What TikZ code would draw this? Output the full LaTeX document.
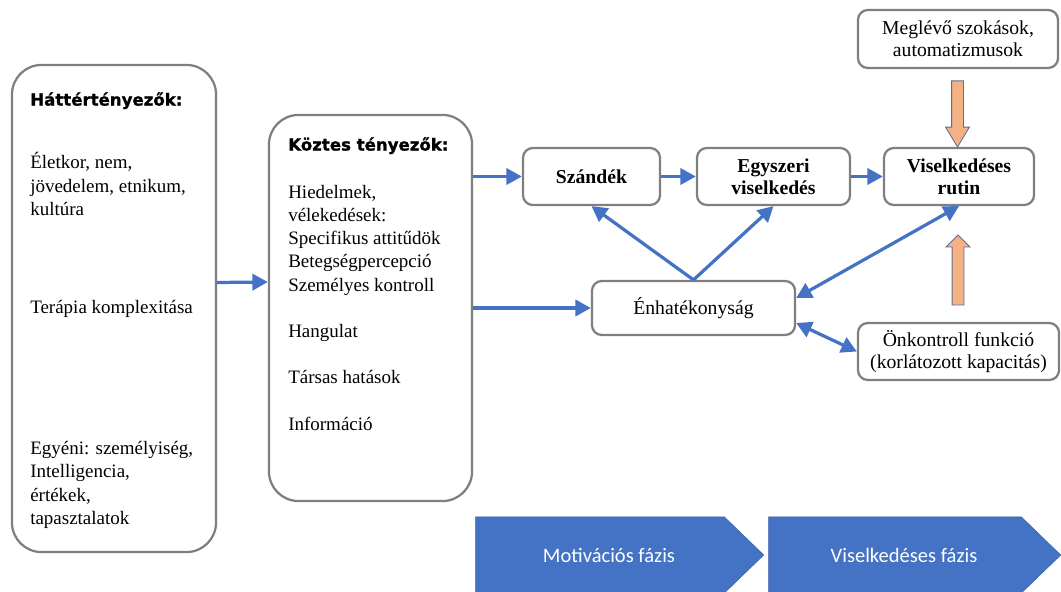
\documentclass[tikz,border=0pt]{standalone}
\usepackage{fontspec}
\setmainfont{Liberation Serif}
\newfontfamily\hdrfont{DejaVu Sans}[BoldFeatures={FakeBold=1.2}]
\newfontfamily\phasefont{Carlito}
\usetikzlibrary{arrows.meta,shapes.arrows,shapes.symbols}

\definecolor{arrowblue}{HTML}{4472C4}
\definecolor{boxgray}{HTML}{7F7F7F}
\definecolor{habitfill}{HTML}{F4B183}
\definecolor{habitedge}{HTML}{5A6E9A}

\newcommand{\hdr}[1]{{\hdrfont\bfseries\fontsize{11.8}{16.5}\selectfont #1}}

\tikzset{
  bigbox/.style={draw=boxgray, line width=1.6pt, rounded corners=21pt},
  listtext/.style={anchor=north west, inner sep=0pt, align=left,
    font=\fontsize{13.5}{16.5}\selectfont},
  smallbox/.style={draw=boxgray, line width=1.6pt, rounded corners=7pt,
    align=center, inner sep=0pt, font=\fontsize{14}{15.6}\selectfont},
  conn/.style={draw=arrowblue, line width=2.3pt,
    -{Triangle[length=11pt,width=11.5pt]}},
  biconn/.style={conn, {Triangle[length=11pt,width=11.5pt]}-{Triangle[length=11pt,width=11.5pt]}},
  habitarrow/.style={single arrow, draw=habitedge, fill=habitfill, line width=0.6pt,
    minimum width=0.575cm, inner sep=0.1375cm, single arrow head extend=0.15cm},
  phase/.style={signal, signal to=east, signal from=nowhere, signal pointer angle=88,
    fill=arrowblue, draw=arrowblue!85!black, line width=0.4pt, text=white,
    font=\phasefont\fontsize{14.6}{16}\selectfont,
    minimum height=1.9cm, inner sep=0pt}
}

\begin{document}
\begin{tikzpicture}[x=0.025cm, y=-0.025cm]
  \useasboundingbox (0,0) rectangle (1061,592);

  \node[bigbox, minimum width=5.1cm, minimum height=12.175cm] (hatter) at (114,308.5) {};
  \node[listtext] (hattertxt) at (30,92) {\hdr{Háttértényezők:}\\[28.6pt]
    Életkor, nem,\\ jövedelem, etnikum,\\ kultúra\\[53pt]
    Terápia komplexitása\\[84.2pt]
    Egyéni: személyiség,\\ Intelligencia,\\ értékek,\\ tapasztalatok};

  \node[bigbox, minimum width=5.075cm, minimum height=9.65cm] (koztes) at (370.5,308) {};
  \node[listtext] (koztestxt) at (288,137) {\hdr{Köztes tényezők:}\\[17.5pt]
    Hiedelmek,\\ vélekedések:\\ Specifikus attitűdök\\ Betegségpercepció\\ Személyes kontroll\\[16.3pt]
    Hangulat\\[16.3pt]
    Társas hatások\\[16.8pt]
    Információ};

  \node[smallbox, font=\bfseries\fontsize{14}{15.6}\selectfont, minimum width=3.425cm, minimum height=1.425cm] (szandek) at (591.5,176.5) {Szándék};
  \node[smallbox, font=\bfseries\fontsize{14}{15.6}\selectfont, minimum width=3.825cm, minimum height=1.425cm] (egyszeri) at (773.5,176.5) {Egyszeri\\viselkedés};
  \node[smallbox, font=\bfseries\fontsize{14}{15.6}\selectfont, minimum width=3.75cm, minimum height=1.425cm] (rutin) at (959,176.5) {Viselkedéses\\rutin};
  \node[smallbox, minimum width=5.075cm, minimum height=1.35cm] (enhat) at (693.5,308) {Énhatékonyság};
  \node[smallbox, minimum width=5.025cm, minimum height=1.425cm] (onkontroll) at (958.5,351.5) {Önkontroll funkció\\(korlátozott kapacitás)};
  \node[smallbox, minimum width=5.0cm, minimum height=1.45cm] (meglevo) at (958,39) {Meglévő szokások,\\automatizmusok};

  \node[habitarrow, shape border rotate=270, minimum height=1.65cm, single arrow tip angle=62] (habitdown) at (957.5,109) {};
  \node[habitarrow, shape border rotate=90, minimum height=1.75cm] (habitup) at (958,273) {};

  \node[phase, minimum width=7.2cm] (motiv) at (600,555) {\hspace*{12.8pt}Motivációs fázis};
  \node[phase, minimum width=7.3cm] (visfazis) at (895,555) {\hspace*{12.8pt}Viselkedéses fázis};

  \draw[conn] ([yshift=0.65cm]hatter.east) -- ([yshift=0.65cm]koztes.west);
  \draw[conn] (koztes.east |- szandek.west) -- (szandek.west);
  \draw[conn] (koztes.east |- enhat.west) -- (enhat.west);
  \draw[conn] (szandek) -- (egyszeri);
  \draw[conn] (egyszeri) -- (rutin);
  \draw[conn] (enhat.north) -- (szandek.south);
  \draw[conn] (enhat.north) -- (egyszeri.south);
  \draw[biconn] ([yshift=0.25cm]enhat.east) -- (rutin.south);
  \draw[biconn] ([yshift=-0.375cm]enhat.east) -- (onkontroll.west);
\end{tikzpicture}
\end{document}
